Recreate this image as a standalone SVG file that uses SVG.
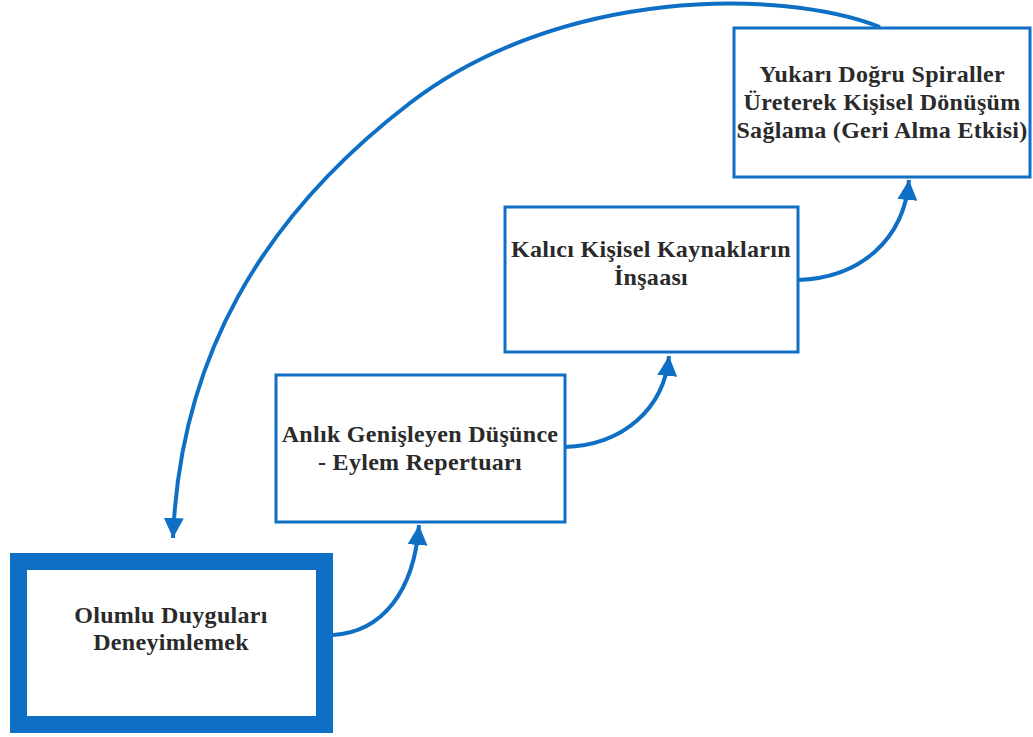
<svg xmlns="http://www.w3.org/2000/svg" width="1033" height="737" viewBox="0 0 1033 737">
  <style>
    .box { fill: #ffffff; stroke: #0f6fc4; stroke-width: 3; }
    .box-main { fill: #ffffff; stroke: #0f6fc4; stroke-width: 17; }
    .label { font-weight: bold; font-size: 24px; fill: #2a2a2a; text-anchor: middle; letter-spacing: 0.3px; }
    .conn { fill: none; stroke: #0f6fc4; stroke-width: 4; }
  </style>
  <defs>
    <marker id="arrow" markerWidth="5" markerHeight="5" refX="5" refY="2.5" orient="auto" markerUnits="strokeWidth" viewBox="0 0 5 5">
      <path d="M0,0 L5,2.5 L0,5 z" fill="#0f6fc4"/>
    </marker>
  </defs>
  <rect width="1033" height="737" fill="#ffffff"/>

  <g id="connectors">
    <path class="conn" d="M 333 635 C 382 632, 414 592, 419 525" marker-end="url(#arrow)"/>
    <path class="conn" d="M 565 447 C 622 445, 664 410, 669 356" marker-end="url(#arrow)"/>
    <path class="conn" d="M 798 280 C 860 278, 904 240, 909 180" marker-end="url(#arrow)"/>
    <path class="conn" d="M 880 27 C 780 -12, 560 -12, 410 103 C 260 218, 180 360, 173 538" marker-end="url(#arrow)"/>
  </g>

  <g id="node-olumlu" font-family="'Liberation Serif', 'Times New Roman', 'DejaVu Serif', serif">
    <rect class="box-main" x="18.5" y="561.5" width="306" height="163"/>
    <text class="label" x="171" y="623">Olumlu Duyguları</text>
    <text class="label" x="171" y="650">Deneyimlemek</text>
  </g>

  <g id="node-anlik" font-family="'Liberation Serif', 'Times New Roman', 'DejaVu Serif', serif">
    <rect class="box" x="276" y="375" width="289" height="147"/>
    <text class="label" x="420" y="442">Anlık Genişleyen Düşünce</text>
    <text class="label" x="420" y="470">- Eylem Repertuarı</text>
  </g>

  <g id="node-kalici" font-family="'Liberation Serif', 'Times New Roman', 'DejaVu Serif', serif">
    <rect class="box" x="505" y="207" width="293" height="145"/>
    <text class="label" x="651" y="257">Kalıcı Kişisel Kaynakların</text>
    <text class="label" x="651" y="285">İnşaası</text>
  </g>

  <g id="node-yukari" font-family="'Liberation Serif', 'Times New Roman', 'DejaVu Serif', serif">
    <rect class="box" x="734" y="28" width="296" height="149"/>
    <text class="label" x="882" y="82">Yukarı Doğru Spiraller</text>
    <text class="label" x="882" y="110">Üreterek Kişisel Dönüşüm</text>
    <text class="label" x="882" y="138">Sağlama (Geri Alma Etkisi)</text>
  </g>
</svg>
